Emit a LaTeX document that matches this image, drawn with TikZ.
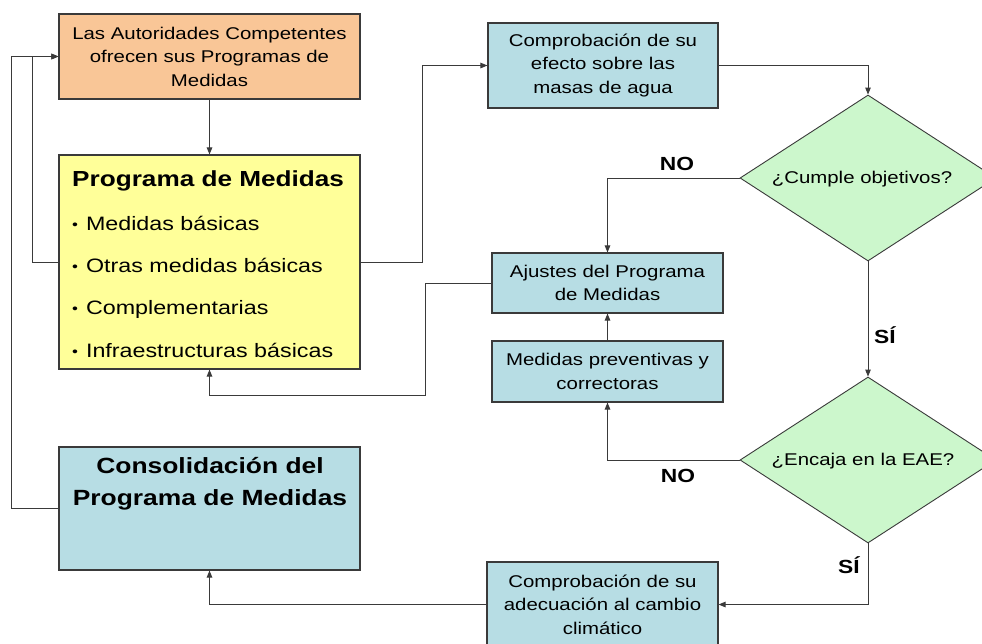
\documentclass[tikz,border=0pt]{standalone}
\usepackage{fontspec}
\setmainfont{Liberation Sans}[FakeStretch=1.2]
\usetikzlibrary{arrows.meta,shapes.geometric}
\definecolor{orangeC}{HTML}{F9C697}
\definecolor{yellowC}{HTML}{FFFF99}
\definecolor{tealC}{HTML}{B7DDE4}
\definecolor{greenC}{HTML}{CCF7CC}
\definecolor{lineC}{HTML}{3A3A3A}
\newcommand{\smallbul}{\raisebox{0.8pt}{\fontsize{14}{14}\selectfont•}\hspace{1.5pt}\ }
\begin{document}
\begin{tikzpicture}[x=1pt,y=-1pt,
  box/.style={draw=lineC, line width=1.1pt, rectangle, inner sep=0pt, align=center},
  dia/.style={draw=lineC, line width=0.9pt, diamond, fill=greenC, inner sep=0pt, minimum width=256pt, minimum height=166pt},
  arr/.style={draw=lineC, line width=1pt, -{Triangle[length=7pt,width=5.5pt]}},
  txt/.style={font=\fontsize{17}{23.5}\selectfont, align=center},
  lbl/.style={font=\bfseries\fontsize{19}{20}\selectfont, inner sep=0pt},
  itemtxt/.style={anchor=base west, inner sep=0pt, font=\fontsize{19.4}{22}\selectfont}]
\clip (0,0) rectangle (982,643);
\fill[white] (0,0) rectangle (982,643);

% boxes
\node[box, txt, fill=orangeC, minimum width=301pt, minimum height=85pt] (auth) at (209.5,56.5) {Las Autoridades Competentes\\ofrecen sus Programas de\\Medidas};
\node[box, fill=yellowC, minimum width=301pt, minimum height=214pt] (prog) at (209.5,262) {};
\node[anchor=base west, inner sep=0pt, font=\bfseries\fontsize{21.8}{24}\selectfont] (progtitle) at (72,186) {Programa de Medidas};
\node[itemtxt] (it1) at (72,230) {\smallbul Medidas básicas};
\node[itemtxt] (it2) at (72,272) {\smallbul Otras medidas básicas};
\node[itemtxt] (it3) at (72,314.5) {\smallbul Complementarias};
\node[itemtxt] (it4) at (72,357) {\smallbul Infraestructuras básicas};

\node[box, fill=tealC, minimum width=301pt, minimum height=123pt] (cons) at (209.5,508.5) {};
\node[align=center, inner sep=0pt, font=\bfseries\fontsize{22}{32}\selectfont] (constext) at (210,484) {Consolidación del\\Programa de Medidas};

\node[box, txt, fill=tealC, minimum width=230pt, minimum height=85pt] (comp1) at (603,65.5) {Comprobación de su\\efecto sobre las\\masas de agua};
\node[box, txt, fill=tealC, minimum width=231pt, minimum height=60pt] (aj) at (607.5,283) {Ajustes del Programa\\de Medidas};
\node[box, txt, fill=tealC, minimum width=231pt, minimum height=61pt] (mp) at (607.5,371.5) {Medidas preventivas y\\correctoras};
\node[box, txt, fill=tealC, minimum width=231pt, minimum height=85pt] (comp2) at (602.5,604.5) {Comprobación de su\\adecuación al cambio\\climático};

% decisions
\node[dia] (d1) at (868,178) {};
\node[txt, inner sep=0pt] (d1t) at (862,179) {¿Cumple objetivos?};
\node[dia] (d2) at (868,460) {};
\node[txt, inner sep=0pt] (d2t) at (863,461) {¿Encaja en la EAE?};

% labels
\node[lbl] (no1) at (677,164) {NO};
\node[lbl] (no2) at (678,476) {NO};
\node[lbl] (si1) at (885,335) {SÍ};
\node[lbl] (si2) at (849,565) {SÍ};

% connectors
\draw[arr] (auth) -- (prog);
\draw[arr] (prog.east) -- ++(62,0) |- (comp1.west);
\draw[arr] (comp1.east) -| (d1.north);
\draw[arr] (d1.west) -| (aj.north);
\draw[arr] (d1.south) -- (d2.north);
\draw[arr] (d2.west) -| (mp.south);
\draw[arr] (mp.north) -- (aj.south);
\coordinate (c1) at (425,395);
\draw[arr] (aj.west) -| (c1) -| (prog.south);
\draw[arr] (d2.south) |- (comp2.east);
\draw[arr] (comp2.west) -| (cons.south);
\draw[arr] (cons.west) -- ++(-47,0) |- (auth.west);
\draw[arr] (prog.west) -- ++(-26,0) |- (auth.west);
\end{tikzpicture}
\end{document}
